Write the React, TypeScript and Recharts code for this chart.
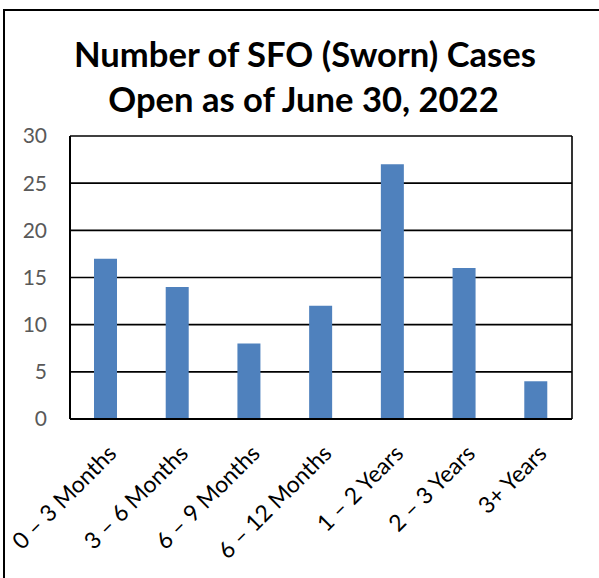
import React from "react";
import { BarChart, Bar, XAxis, YAxis, CartesianGrid } from "recharts";

const categories = ["0 – 3 Months", "3 – 6 Months", "6 – 9 Months", "6 – 12 Months", "1 – 2 Years", "2 – 3 Years", "3+ Years"];
const cases = [17, 14, 8, 12, 27, 16, 4];
const yTicks = [0, 5, 10, 15, 20, 25, 30];
const titleLines = ["Number of SFO (Sworn) Cases", "Open as of June 30, 2022"];

const data = categories.map((c, i) => ({ name: c, value: cases[i] }));

const FONT = "Lato, 'Open Sans', sans-serif";

const XTick = (props: any) => {
  const { x, y, payload } = props;
  return (
    <g transform={`translate(${x + 12},${y + 36})`}>
      <text textAnchor="end" transform="rotate(-45)" fontSize={23} fill="#000" fontFamily={FONT}>
        {payload.value}
      </text>
    </g>
  );
};

export default function App() {
  return (
    <div style={{ position: "absolute", left: 0, top: 0, width: 599, height: 578, overflow: "hidden", background: "#fff" }}>
      <div style={{ position: "absolute", left: 3, top: 9, width: 700, height: 700, borderTop: "2px solid #000", borderLeft: "2px solid #000", boxSizing: "border-box" }} />
      <svg width={599} height={130} style={{ position: "absolute", left: 0, top: 0 }}>
        <text x={305} y={66.5} textAnchor="middle" fontSize={34.6} fontWeight="bold" fontFamily={FONT} fill="#000">{titleLines[0]}</text>
        <text x={303.5} y={111.5} textAnchor="middle" fontSize={34.6} fontWeight="bold" fontFamily={FONT} fill="#000">{titleLines[1]}</text>
      </svg>
      <div style={{ position: "absolute", left: 0, top: 0 }}>
        <BarChart width={599} height={578} data={data} margin={{ top: 136, right: 27, bottom: 59, left: 10 }}>
          <CartesianGrid stroke="#000" strokeWidth={1.6} vertical={true} verticalPoints={[572]} />
          <XAxis
            dataKey="name"
            interval={0}
            height={100}
            tickSize={0}
            tickMargin={0}
            tickLine={false}
            axisLine={{ stroke: "#000", strokeWidth: 2 }}
            tick={<XTick />}
          />
          <YAxis
            domain={[0, 30]}
            ticks={yTicks}
            width={60}
            tickSize={0}
            tickMargin={23}
            tickLine={false}
            axisLine={{ stroke: "#000", strokeWidth: 2 }}
            tick={{ fill: "#595959", fontSize: 21, fontFamily: FONT }}
          />
          <Bar dataKey="value" fill="#4F81BD" barSize={23} isAnimationActive={false} />
        </BarChart>
      </div>
    </div>
  );
}
